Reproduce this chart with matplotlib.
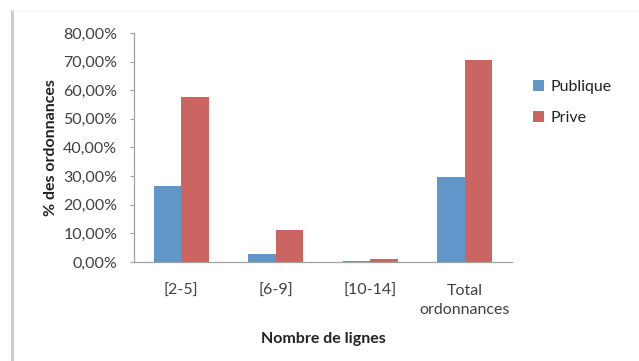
import matplotlib
matplotlib.use("Agg")
import matplotlib.pyplot as plt
import numpy as np
from matplotlib.lines import Line2D
from matplotlib.ticker import FuncFormatter

categories = ["[2-5]", "[6-9]", "[10-14]", "Total\nordonnances"]
publique = [26.5, 2.7, 0.5, 29.7]
prive = [57.6, 11.1, 1.2, 70.4]
series_names = ["Publique", "Prive"]
yticks = [0, 10, 20, 30, 40, 50, 60, 70, 80]

plt.rcParams['font.family'] = ['Lato', 'DejaVu Sans']

fig = plt.figure(figsize=(6.39, 3.61), dpi=100)
ax = fig.add_axes([134/639, 1-262/361, (512-134)/639, (262-33)/361])

blue = "#6096C8"
red = "#CB6561"
fs = 11.5
x = np.arange(len(categories))
w = 0.29
ax.bar(x - w/2, publique, w, color=blue, label=series_names[0])
ax.bar(x + w/2, prive, w, color=red, label=series_names[1])

ax.set_xlim(-0.5, len(categories) - 0.5)
ax.set_ylim(0, 80)
ax.set_yticks(yticks)
ax.yaxis.set_major_formatter(FuncFormatter(lambda v, p: f"{v:.2f}%".replace(".", ",")))
ax.set_xticks(x)
ax.set_xticklabels(categories, fontsize=fs, color="#404040", linespacing=1.45)
ax.tick_params(axis='y', labelsize=fs, labelcolor="#404040", length=3, color="#A0A0A0", width=0.8, pad=9)
ax.tick_params(axis='x', length=0, pad=16)
for lab in ax.get_xticklabels():
    lab.set_verticalalignment('top')

for s in ["top", "right"]:
    ax.spines[s].set_visible(False)
for s in ["left", "bottom"]:
    ax.spines[s].set_color("#A0A0A0")
    ax.spines[s].set_linewidth(0.9)

ax.set_ylabel("% des ordonnances", fontsize=fs, fontweight="bold", color="#222222", labelpad=4)
ax.set_xlabel("Nombre de lignes", fontsize=fs, fontweight="bold", color="#222222", labelpad=11)

leg = fig.legend(loc="upper left", bbox_to_anchor=(527/639, 1-74/361), frameon=False,
                 fontsize=fs, handlelength=0.65, handleheight=0.65, handletextpad=0.4,
                 labelspacing=1.05, borderaxespad=0)
for t in leg.get_texts():
    t.set_color("#222222")

# frame line on the left
fig.add_artist(Line2D([11.5/639, 11.5/639], [0, 1-11/361], color="#CCCCCC", lw=2.2))
fig.add_artist(Line2D([11.5/639, 1], [1-11/361, 1-11/361], color="#F4F4F4", lw=0.8))

fig.savefig("out.png", dpi=100)
